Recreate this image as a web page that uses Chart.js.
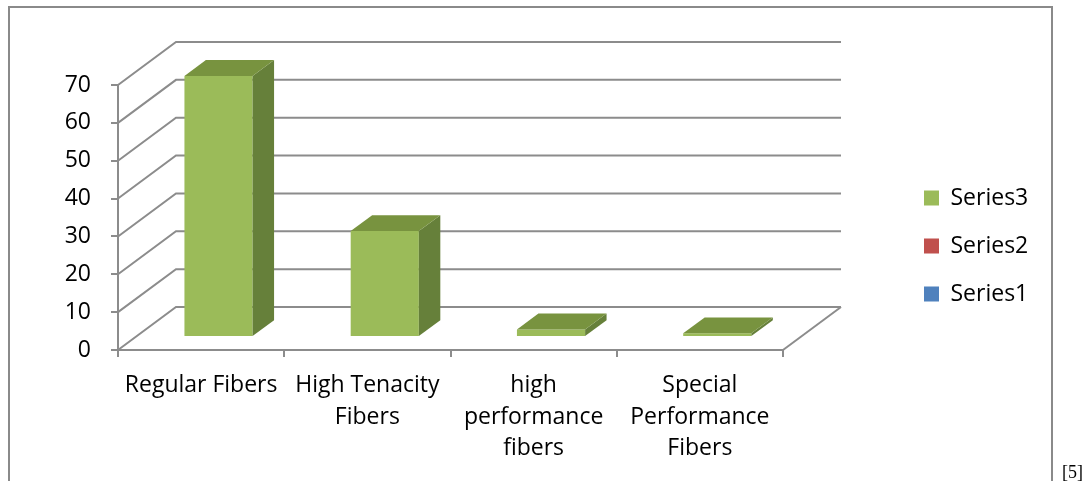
<!DOCTYPE html>
<html>
<head>
<meta charset="utf-8">
<script src="https://cdn.jsdelivr.net/npm/chart.js@4"></script>
<style>
  html, body { margin: 0; padding: 0; background: #fff; width: 1089px; height: 481px; overflow: hidden; }
  #frame { position: absolute; left: 8px; top: 6px; width: 1045px; height: 520px; box-sizing: border-box; border: 2px solid #8a8a8a; }
  #wrap { position: absolute; left: 0; top: 0; width: 1089px; height: 481px; }
  #ref { position: absolute; left: 1062px; top: 463px; font: 18px "Liberation Serif", serif; color: #000; line-height: 1; }
</style>
</head>
<body>
<div id="frame"></div>
<div id="wrap"><canvas id="c" width="1089" height="481"></canvas></div>
<span id="ref">[5]</span>
<script>
// Categories (multi-line labels as arrays)
const categories = [
  'Regular Fibers',
  ['High Tenacity', 'Fibers'],
  ['high', 'performance', 'fibers'],
  ['Special', 'Performance', 'Fibers']
];

// Series values
const series1 = [null, null, null, null];
const series2 = [null, null, null, null];
const series3 = [69, 28, 2, 1];

// Value axis ticks
const yMin = 0;
const yMax = 70;
const yStep = 10;

const FONT = '"Open Sans", "Liberation Sans", sans-serif';
const FONT_SIZE = 23;
const GRID_COLOR = '#8c8c8c';

// Oblique projection: offset of the back of the floor from the front edge
const DEPTH = { dx: 58, dy: -43 };
const BAR_FRONT = 0.30;   // fraction of depth where a column's front face sits
const BAR_DEPTH = 0.37;   // column thickness as fraction of depth
const PLOT_RIGHT = 783;   // right edge of the front plot plane

// Draws the perspective walls/floor grid and the top/side faces of the columns
const box3d = {
  id: 'box3d',
  beforeDatasetsDraw(chart) {
    const { ctx, chartArea: a, scales: { y } } = chart;
    ctx.save();
    ctx.strokeStyle = GRID_COLOR;
    ctx.lineWidth = 2;
    y.ticks.forEach(t => {
      const py = y.getPixelForValue(t.value);
      ctx.beginPath();
      ctx.moveTo(a.left, py);
      ctx.lineTo(a.left + DEPTH.dx, py + DEPTH.dy);
      ctx.lineTo(a.right + DEPTH.dx, py + DEPTH.dy);
      ctx.stroke();
    });
    const p0 = y.getPixelForValue(yMin);
    ctx.beginPath();
    ctx.moveTo(a.right, p0);
    ctx.lineTo(a.right + DEPTH.dx, p0 + DEPTH.dy);
    ctx.stroke();
    ctx.restore();

    // columns are drawn pushed back into the floor
    ctx.save();
    ctx.translate(DEPTH.dx * BAR_FRONT, DEPTH.dy * BAR_FRONT);
  },
  afterDatasetsDraw(chart) {
    const ctx = chart.ctx;
    const ox = DEPTH.dx * BAR_DEPTH, oy = DEPTH.dy * BAR_DEPTH;
    chart.data.datasets.forEach((ds, i) => {
      const meta = chart.getDatasetMeta(i);
      if (meta.hidden) return;
      meta.data.forEach((bar, j) => {
        if (ds.data[j] == null) return;
        const { x, y, base, width } = bar.getProps(['x', 'y', 'base', 'width'], true);
        const l = x - width / 2, r = x + width / 2;
        ctx.fillStyle = ds.sideColor;
        ctx.beginPath();
        ctx.moveTo(r, y); ctx.lineTo(r + ox, y + oy); ctx.lineTo(r + ox, base + oy); ctx.lineTo(r, base);
        ctx.closePath(); ctx.fill();
        ctx.fillStyle = ds.topColor;
        ctx.beginPath();
        ctx.moveTo(l, y); ctx.lineTo(l + ox, y + oy); ctx.lineTo(r + ox, y + oy); ctx.lineTo(r, y);
        ctx.closePath(); ctx.fill();
      });
    });
    ctx.restore();
  }
};

const chart = new Chart(document.getElementById('c'), {
  type: 'bar',
  data: {
    labels: categories,
    datasets: [
      { label: 'Series1', data: series1, backgroundColor: '#4F81BD', sideColor: '#3A5F8B', topColor: '#4470A4' },
      { label: 'Series2', data: series2, backgroundColor: '#C0504D', sideColor: '#8E3B39', topColor: '#A64542' },
      { label: 'Series3', data: series3, backgroundColor: '#9BBB59', sideColor: '#66803A', topColor: '#78933F' }
    ]
  },
  options: {
    responsive: false,
    animation: false,
    events: [],
    layout: { padding: { top: 85, right: 40, bottom: 0, left: 0 } },
    datasets: {
      bar: { grouped: false, categoryPercentage: 1, barPercentage: 0.41, borderWidth: 0, clip: false }
    },
    scales: {
      x: {
        grid: { display: true, drawOnChartArea: false, drawTicks: true, tickLength: 7, color: GRID_COLOR, lineWidth: 2, offset: true },
        border: { display: true, color: GRID_COLOR, width: 2 },
        ticks: { color: '#000', font: { family: FONT, size: FONT_SIZE, lineHeight: 1.37 }, padding: 13, maxRotation: 0, autoSkip: false },
        afterFit(s) { s.height = 131; }
      },
      y: {
        min: yMin, max: yMax,
        grid: { display: true, drawOnChartArea: false, drawTicks: true, tickLength: 7, color: GRID_COLOR, lineWidth: 2 },
        border: { display: true, color: GRID_COLOR, width: 2 },
        ticks: { stepSize: yStep, color: '#000', font: { family: FONT, size: FONT_SIZE }, padding: 20 },
        afterFit(s) { s.width = 118; }
      },
      gap: {
        type: 'linear', position: 'right', display: true,
        grid: { display: false }, border: { display: false }, ticks: { display: false },
        afterFit(s) { s.width = 116; }
      }
    },
    plugins: {
      tooltip: { enabled: false },
      legend: {
        position: 'right', reverse: true, fullSize: false, align: 'center',
        title: { display: true, text: '', padding: { top: 56, bottom: 0 }, font: { size: 1, lineHeight: 1 } },
        labels: { boxWidth: 15, boxHeight: 15, padding: 25, color: '#000', textAlign: 'left', font: { family: FONT, size: FONT_SIZE } }
      }
    }
  },
  plugins: [box3d]
});

// keep the front plane's right edge in place whatever the legend width
const shift = chart.chartArea.right - PLOT_RIGHT;
if (Math.abs(shift) > 0.5) {
  chart.options.layout.padding.right += shift;
  chart.update();
}
</script>
</body>
</html>
